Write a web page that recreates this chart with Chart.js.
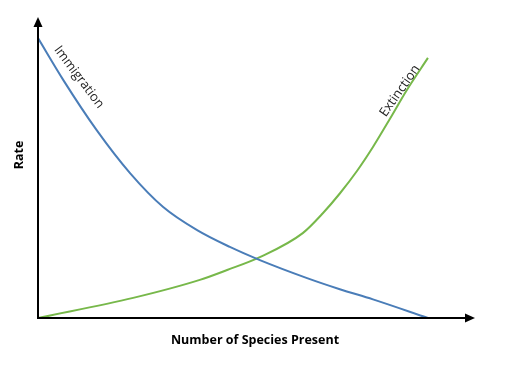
<!DOCTYPE html>
<html>
<head>
<meta charset="utf-8">
<script src="https://cdn.jsdelivr.net/npm/chart.js@4/dist/chart.umd.min.js"></script>
<style>
  html, body { margin: 0; padding: 0; background: #fff; }
  #wrap { width: 517px; height: 367px; }
</style>
</head>
<body>
<div id="wrap"><canvas id="chart" width="517" height="367"></canvas></div>
<script>
  // Data (x = species count, y = rate)
  const immigrationX = [0, 0.65, 1.5, 2.36, 3.21, 4.08, 4.92, 5.69, 6.9, 7.74, 8.59, 10];
  const immigrationY = [93.3, 79.3, 62.7, 48.3, 37, 29.3, 23.7, 19.3, 13.3, 9.6, 6.2, 0];
  const extinctionX = [0, 2.44, 4.15, 4.85, 5.69, 6.79, 7.31, 7.74, 8.18, 8.59, 9.03, 9.46, 10];
  const extinctionY = [0, 6.7, 12.7, 16, 20.3, 28.3, 35, 41.5, 49, 57, 66.5, 76, 86.7];

  const toPoints = (xs, ys) => xs.map((x, i) => ({ x: x, y: ys[i] }));

  // Axes with arrow heads + curve labels
  const arrowAxes = {
    id: "arrowAxes",
    afterDraw(chart) {
      const c = chart.ctx;
      const a = chart.chartArea;
      const xs = chart.scales.x, ys = chart.scales.y;
      c.save();
      c.strokeStyle = "#000";
      c.fillStyle = "#000";
      c.lineWidth = 2;
      // y axis
      c.beginPath();
      c.moveTo(a.left, a.bottom + 1);
      c.lineTo(a.left, a.top + 6);
      c.stroke();
      c.beginPath();
      c.moveTo(a.left, a.top - 1);
      c.lineTo(a.left - 4.5, a.top + 9);
      c.lineTo(a.left + 4.5, a.top + 9);
      c.closePath();
      c.fill();
      // x axis
      c.beginPath();
      c.moveTo(a.left - 1, a.bottom);
      c.lineTo(a.right - 6, a.bottom);
      c.stroke();
      c.beginPath();
      c.moveTo(a.right + 3, a.bottom);
      c.lineTo(a.right - 7, a.bottom - 4.5);
      c.lineTo(a.right - 7, a.bottom + 4.5);
      c.closePath();
      c.fill();

      // curve labels
      c.fillStyle = "#222";
      c.font = "13px 'Open Sans', sans-serif";
      c.textAlign = "center";
      c.textBaseline = "middle";
      c.save();
      c.translate(xs.getPixelForValue(1.05), ys.getPixelForValue(80.3));
      c.rotate(53 * Math.PI / 180);
      c.fillText("Immigration", 0, 0);
      c.restore();
      c.save();
      c.translate(xs.getPixelForValue(9.28), ys.getPixelForValue(75.7));
      c.rotate(-55 * Math.PI / 180);
      c.fillText("Extinction", 0, 0);
      c.restore();

      // axis titles
      c.fillStyle = "#000";
      c.font = "bold 12.5px 'Open Sans', sans-serif";
      c.fillText("Number of Species Present", 255, 340);
      c.save();
      c.translate(19, 155);
      c.rotate(-Math.PI / 2);
      c.fillText("Rate", 0, 0);
      c.restore();
      c.restore();
    }
  };

  const ctx = document.getElementById("chart").getContext("2d");
  new Chart(ctx, {
    type: "scatter",
    data: {
      datasets: [{
        label: "Immigration",
        data: toPoints(immigrationX, immigrationY),
        showLine: true,
        borderColor: "#4a7db8",
        borderWidth: 2,
        pointRadius: 0,
        cubicInterpolationMode: "monotone"
      }, {
        label: "Extinction",
        data: toPoints(extinctionX, extinctionY),
        showLine: true,
        borderColor: "#77b84a",
        borderWidth: 2,
        pointRadius: 0,
        cubicInterpolationMode: "monotone"
      }]
    },
    options: {
      responsive: false,
      animation: false,
      layout: { padding: { left: 38, top: 18, right: 45, bottom: 49 } },
      plugins: {
        legend: { display: false },
        tooltip: { enabled: false }
      },
      scales: {
        x: { type: "linear", min: 0, max: 11.13, display: false },
        y: { min: 0, max: 100, display: false }
      }
    },
    plugins: [arrowAxes]
  });
</script>
</body>
</html>
